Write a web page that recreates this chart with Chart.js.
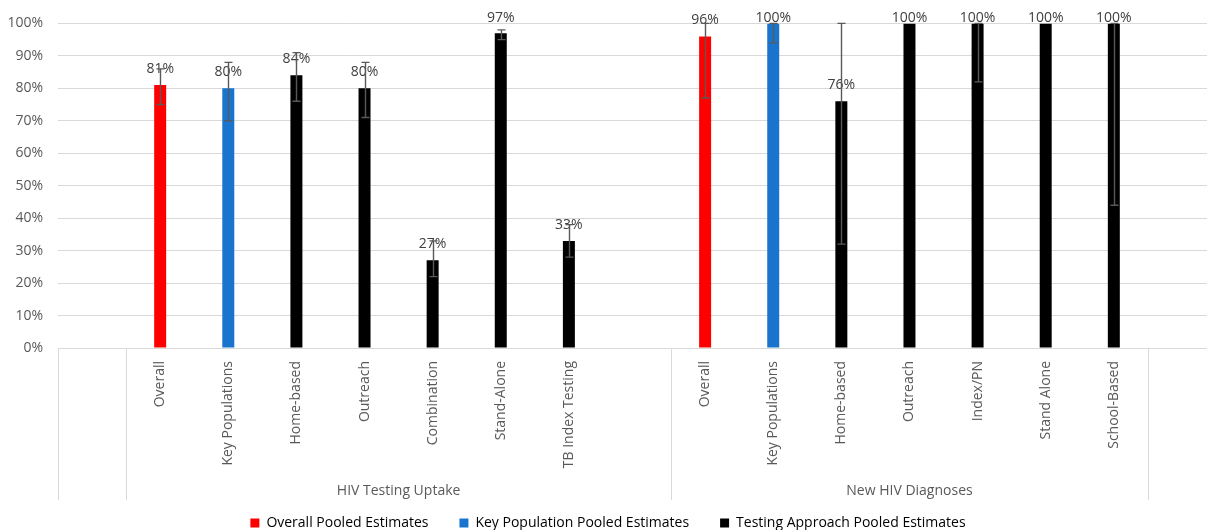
<!DOCTYPE html>
<html><head><meta charset="utf-8">
<script src="https://cdn.jsdelivr.net/npm/chart.js@4/dist/chart.umd.min.js"></script>
<style>
html,body{margin:0;padding:0;overflow:hidden;background:#fff}
#wrap{width:1216px;height:540px;position:relative}
</style>
</head><body>
<div id="wrap"><canvas id="c"></canvas></div>
<script>
// ---- data ----
const groupNames = ['HIV Testing Uptake', 'New HIV Diagnoses'];
const categories = ['', 'Overall', 'Key Populations', 'Home-based', 'Outreach', 'Combination', 'Stand-Alone', 'TB Index Testing', '',
                    'Overall', 'Key Populations', 'Home-based', 'Outreach', 'Index/PN', 'Stand Alone', 'School-Based', ''];
const groupSpans = [[1, 8], [9, 15]];           // category index ranges of each group
const values   = [null, 81, 80, 84, 80, 27, 97, 33, null, 96, 100, 76, 100, 100, 100, 100, null];
const lowerCI  = [null, 75, 70, 76, 71, 22, 95, 28, null, 77,  94, 32, 100,  82, 100,  44, null];
const upperCI  = [null, 86, 88, 91, 88, 33, 98, 38, null, 100, 100, 100, 100, 100, 100, 100, null];
const estimateType = [null, 0, 1, 2, 2, 2, 2, 2, null, 0, 1, 2, 2, 2, 2, 2, null];
const seriesNames  = ['Overall Pooled Estimates', 'Key Population Pooled Estimates', 'Testing Approach Pooled Estimates'];
const seriesColors = ['#FF0000', '#1874CD', '#000000'];
const yTicks = [0, 10, 20, 30, 40, 50, 60, 70, 80, 90, 100];

const FONT = "'Open Sans', 'Noto Sans', sans-serif";
const GRAY = '#595959';

const datasets = seriesNames.map((name, s) => ({
  label: name,
  data: values.map((v, i) => estimateType[i] === s ? v : null),
  backgroundColor: seriesColors[s],
  borderWidth: 0,
  grouped: false,
  barPercentage: 0.176,
  categoryPercentage: 1
}));

const overlayPlugin = {
  id: 'overlay',
  afterDatasetsDraw(chart) {
    const ctx = chart.ctx, xs = chart.scales.x, ys = chart.scales.y;
    ctx.save();
    // data labels
    ctx.font = '14px ' + FONT;
    ctx.fillStyle = '#404040';
    ctx.textAlign = 'center';
    ctx.textBaseline = 'middle';
    values.forEach((v, i) => {
      if (v == null) return;
      const x = xs.getPixelForValue(i);
      const top = ys.getPixelForValue(v);
      const y = Math.max(top - 16, ys.getPixelForValue(100) - 5);
      ctx.fillText(v + '%', x, y);
    });
    // error bars
    ctx.strokeStyle = '#595959';
    ctx.lineWidth = 1.4;
    values.forEach((v, i) => {
      if (v == null || lowerCI[i] === upperCI[i]) return;
      const x = Math.round(xs.getPixelForValue(i)) + 0.5;
      const y1 = ys.getPixelForValue(lowerCI[i]);
      const y2 = ys.getPixelForValue(upperCI[i]);
      ctx.beginPath();
      ctx.moveTo(x, y1); ctx.lineTo(x, y2);
      ctx.moveTo(x - 4, y1); ctx.lineTo(x + 4, y1);
      ctx.moveTo(x - 4, y2); ctx.lineTo(x + 4, y2);
      ctx.stroke();
    });
    ctx.restore();
  },
  afterDraw(chart) {
    const ctx = chart.ctx, xs = chart.scales.x;
    const bottom = chart.chartArea.bottom;
    const edge = k => (xs.getPixelForValue(k) + xs.getPixelForValue(k + 1)) / 2;
    ctx.save();
    ctx.strokeStyle = '#d9d9d9';
    ctx.lineWidth = 1;
    const lines = [chart.chartArea.left, edge(0), edge(8), edge(15)];
    lines.forEach(x => {
      const xx = Math.round(x) + 0.5;
      ctx.beginPath(); ctx.moveTo(xx, bottom); ctx.lineTo(xx, 500); ctx.stroke();
    });
    ctx.font = '14px ' + FONT;
    ctx.fillStyle = GRAY;
    ctx.textAlign = 'center';
    ctx.textBaseline = 'middle';
    groupSpans.forEach(([a, b], g) => {
      const cx = (edge(a - 1) + edge(b)) / 2;
      ctx.fillText(groupNames[g], cx, 491);
    });
    ctx.restore();
  }
};

new Chart(document.getElementById('c'), {
  type: 'bar',
  data: { labels: categories, datasets },
  options: {
    responsive: true,
    maintainAspectRatio: false,
    animation: false,
    layout: { padding: { top: 22, left: 0, right: 0, bottom: 0 } },
    plugins: {
      tooltip: { enabled: false },
      legend: {
        position: 'bottom',
        labels: {
          boxWidth: 9, boxHeight: 9, padding: 10,
          color: GRAY,
          font: { family: FONT, size: 14 },
          generateLabels(chart) {
            return seriesNames.map((n, s) => ({
              text: s < seriesNames.length - 1 ? n + '\u2003\u2002' : n,
              fillStyle: seriesColors[s], strokeStyle: seriesColors[s], lineWidth: 0,
              datasetIndex: s, hidden: false
            }));
          }
        }
      }
    },
    scales: {
      x: {
        type: 'category',
        grid: { display: false, drawTicks: false },
        border: { display: false },
        ticks: {
          autoSkip: false, minRotation: 90, maxRotation: 90, padding: 13,
          color: GRAY, font: { family: FONT, size: 14 }
        },
        afterFit(scale) { scale.height = 158; }
      },
      y: {
        min: 0, max: 100,
        afterBuildTicks(scale) { scale.ticks = yTicks.map(v => ({ value: v })); },
        grid: { color: '#d9d9d9', drawTicks: false, lineWidth: 1 },
        border: { display: false },
        ticks: {
          padding: 15, color: GRAY, font: { family: FONT, size: 14 },
          callback: v => v + '%'
        },
        afterFit(scale) { scale.width = 58; }
      }
    }
  },
  plugins: [overlayPlugin]
});
</script>
</body></html>
